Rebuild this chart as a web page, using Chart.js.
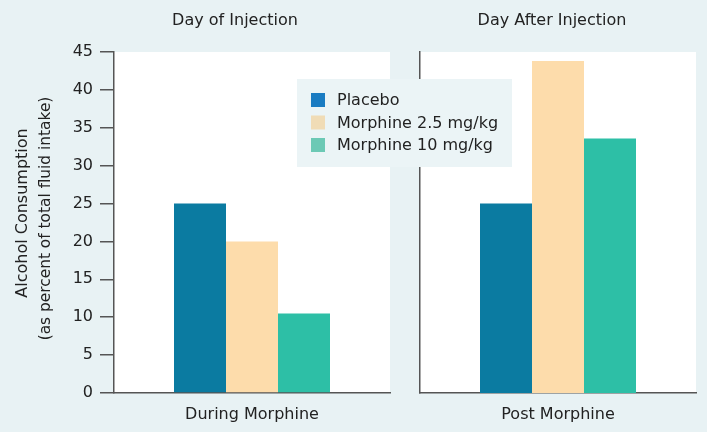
<!DOCTYPE html>
<html><head><meta charset="utf-8">
<script src="https://cdn.jsdelivr.net/npm/chart.js@4.4.1/dist/chart.umd.min.js"></script>
<style>
html,body{margin:0;padding:0;background:#e8f2f4;}
#wrap{position:relative;width:707px;height:432px;overflow:hidden;}
canvas{position:absolute;left:0;top:0;}
</style></head><body>
<div id="wrap"><canvas id="c1" width="707" height="432"></canvas><canvas id="c2" width="707" height="432"></canvas></div>
<script>
const panelTitles = ["Day of Injection", "Day After Injection"];
const categories = ["During Morphine", "Post Morphine"];
const seriesLabels = ["Placebo", "Morphine 2.5 mg/kg", "Morphine 10 mg/kg"];
const placebo = [25, 25];
const morphine25 = [20, 43.8];
const morphine10 = [10.5, 33.6];
const yMin = 0, yMax = 45, yStep = 5;
const yTitle = ["Alcohol Consumption", "(as percent of total fluid intake)"];

const colors = ["#0b7ba1", "#fddcab", "#2dbfa6"];
const legendColors = ["#1a7cc2", "#f0dcb6", "#6cc9b5"];
const FONT = "'DejaVu Sans', 'Liberation Sans', Arial, sans-serif";
const FS = 16;
const TXT = "#222";
const AXIS = "#555";

const plotBg = {
  id: 'plotBg',
  beforeDraw(chart) {
    const {ctx, chartArea: a} = chart;
    ctx.save();
    ctx.fillStyle = '#ffffff';
    ctx.fillRect(a.left, a.top, a.right - a.left, a.bottom - a.top);
    ctx.restore();
  }
};

function panelTitle(idx, dx) {
  return {
    id: 'panelTitle' + idx,
    afterDraw(chart) {
      const {ctx, chartArea: a} = chart;
      ctx.save();
      ctx.font = FS + 'px ' + FONT;
      ctx.fillStyle = TXT;
      ctx.textAlign = 'center';
      ctx.textBaseline = 'alphabetic';
      ctx.fillText(panelTitles[idx], (a.left + a.right) / 2 + dx, 24.5);
      ctx.restore();
    }
  };
}

const yTitlePlugin = {
  id: 'yTitle',
  afterDraw(chart) {
    const {ctx, chartArea: a} = chart;
    const mid = (a.top + a.bottom) / 2;
    const xs = [23, 45.5];
    const dy = [-9.5, -4];
    const sizes = [FS, 15.4];
    ctx.save();
    ctx.fillStyle = TXT;
    ctx.textAlign = 'center';
    ctx.textBaseline = 'middle';
    yTitle.forEach((t, i) => {
      ctx.save();
      ctx.font = sizes[i] + 'px ' + FONT;
      ctx.translate(xs[i], mid + dy[i]);
      ctx.rotate(-Math.PI / 2);
      ctx.fillText(t, 0, 0);
      ctx.restore();
    });
    ctx.restore();
  }
};

const legendPlugin = {
  id: 'customLegend',
  afterDraw(chart) {
    const {ctx} = chart;
    const bx = 297, by = 79, bw = 215, bh = 88;
    ctx.save();
    ctx.fillStyle = '#ebf4f6';
    ctx.fillRect(bx, by, bw, bh);
    ctx.font = FS + 'px ' + FONT;
    ctx.textBaseline = 'middle';
    ctx.textAlign = 'left';
    chart.data.datasets.forEach((ds, i) => {
      const cy = 100 + i * 22.5;
      ctx.fillStyle = legendColors[i];
      ctx.fillRect(311, cy - 7, 14, 14);
      ctx.fillStyle = TXT;
      ctx.fillText(ds.label, 337, cy + 1);
    });
    ctx.restore();
  }
};

function makeChart(id, idx, cfg) {
  return new Chart(document.getElementById(id), {
    type: 'bar',
    data: {
      labels: [categories[idx]],
      datasets: [
        {label: seriesLabels[0], data: [placebo[idx]], backgroundColor: colors[0]},
        {label: seriesLabels[1], data: [morphine25[idx]], backgroundColor: colors[1]},
        {label: seriesLabels[2], data: [morphine10[idx]], backgroundColor: colors[2]}
      ]
    },
    options: {
      responsive: false,
      animation: false,
      devicePixelRatio: 1,
      layout: {padding: cfg.padding},
      plugins: {legend: {display: false}, tooltip: {enabled: false}, title: {display: false}},
      datasets: {bar: {categoryPercentage: cfg.catPct, barPercentage: 1, borderWidth: 0}},
      scales: {
        x: {
          grid: {display: false, drawTicks: false},
          border: {display: true, color: AXIS, width: 1.5},
          ticks: {color: TXT, font: {family: FONT, size: FS}, padding: 12},
          afterFit: s => { s.height = 39; }
        },
        y: {
          min: yMin, max: yMax,
          ticks: {display: cfg.showTicks, stepSize: yStep, color: TXT, font: {family: FONT, size: FS}, padding: 7},
          grid: {display: cfg.showTicks, drawOnChartArea: false, drawTicks: true, tickLength: 14, color: AXIS, lineWidth: 1.5},
          border: {display: true, color: AXIS, width: 1.5},
          afterFit: s => { s.width = cfg.yWidth; }
        }
      }
    },
    plugins: cfg.plugins
  });
}

makeChart('c1', 0, {
  padding: {top: 52, right: 317, bottom: 0, left: 0},
  catPct: 156 / 276, showTicks: true, yWidth: 114,
  plugins: [plotBg, panelTitle(0, -17), yTitlePlugin]
});
makeChart('c2', 1, {
  padding: {top: 52, right: 11, bottom: 0, left: 0},
  catPct: 156 / 276, showTicks: false, yWidth: 420,
  plugins: [plotBg, panelTitle(1, -6), legendPlugin]
});
</script>
</body></html>
